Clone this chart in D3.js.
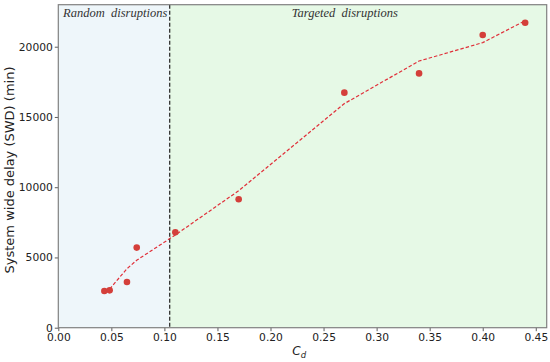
<!DOCTYPE html>
<html>
<head>
<meta charset="utf-8">
<script src="https://cdn.jsdelivr.net/npm/d3@7"></script>
<style>
body { margin: 0; background: #fff; }
</style>
</head>
<body>
<div id="graph"></div>
<script>
"use strict";

// observed points
var cdValues = [0.0434, 0.0484, 0.0647, 0.0739, 0.1103, 0.170, 0.2696, 0.340, 0.400, 0.440];
var swdValues = [2610, 2660, 3250, 5700, 6790, 9140, 16730, 18100, 20830, 21710];

// fitted trend (dashed)
var fitCd = [0.0484, 0.0647, 0.0739, 0.1103, 0.170, 0.2696, 0.340, 0.400, 0.440];
var fitSwd = [2750, 4200, 4800, 6600, 9750, 15950, 18980, 20290, 21850];

var xTicks = [0, 0.05, 0.10, 0.15, 0.20, 0.25, 0.30, 0.35, 0.40, 0.45];
var yTicks = [0, 5000, 10000, 15000, 20000];
var splitCd = 0.105;

var width = 550, height = 362;
var margin = {top: 4.7, left: 58.3, right: 3.3, bottom: 34.3};
var chartWidth = width - margin.left - margin.right;
var chartHeight = height - margin.top - margin.bottom;

var svg = d3.select("#graph").append("svg")
    .attr("width", width)
    .attr("height", height)
    .style("font-family", "'DejaVu Sans', sans-serif");

var chartLayer = svg.append("g")
    .attr("transform", "translate(" + [margin.left, margin.top] + ")");

var x = d3.scaleLinear().domain([0, 0.4603]).range([0, chartWidth]);
var y = d3.scaleLinear().domain([0, 22990]).range([chartHeight, 0]);

// shaded regions
chartLayer.append("rect")
    .attr("x", 0).attr("y", 0)
    .attr("width", x(splitCd)).attr("height", chartHeight)
    .attr("fill", "#eef6fa");
chartLayer.append("rect")
    .attr("x", x(splitCd)).attr("y", 0)
    .attr("width", chartWidth - x(splitCd)).attr("height", chartHeight)
    .attr("fill", "#e6f9e6");

// axes
var xAxis = chartLayer.append("g")
    .attr("transform", "translate(0," + chartHeight + ")")
    .call(d3.axisBottom(x).tickValues(xTicks).tickFormat(d3.format(".2f")).tickSize(3.5).tickPadding(2));
var yAxis = chartLayer.append("g")
    .call(d3.axisLeft(y).tickValues(yTicks).tickFormat(d3.format("d")).tickSize(3.5).tickPadding(2));

[xAxis, yAxis].forEach(function (a) {
    a.select(".domain").remove();
    a.selectAll("line").attr("stroke", "#333").attr("stroke-width", 0.8);
    a.selectAll("text")
        .attr("fill", "#222")
        .style("font-size", "10.7px")
        .style("font-family", "'DejaVu Sans', sans-serif");
});

// split line
chartLayer.append("line")
    .attr("x1", x(splitCd)).attr("x2", x(splitCd))
    .attr("y1", 0).attr("y2", chartHeight)
    .attr("stroke", "#222")
    .attr("stroke-width", 1.2)
    .attr("stroke-dasharray", "4,2");

// fitted line
var line = d3.line()
    .x(function (d, i) { return x(fitCd[i]); })
    .y(function (d) { return y(d); });

chartLayer.append("path")
    .datum(fitSwd)
    .attr("d", line)
    .attr("fill", "none")
    .attr("stroke", "#e0303a")
    .attr("stroke-width", 1.2)
    .attr("stroke-dasharray", "3.5,2");

// points
chartLayer.append("g")
    .selectAll("circle")
    .data(swdValues)
    .enter().append("circle")
    .attr("cx", function (d, i) { return x(cdValues[i]); })
    .attr("cy", function (d) { return y(d); })
    .attr("r", 3.3)
    .attr("fill", "#d43f3a");

// annotations
function note(cd, label) {
    chartLayer.append("text")
        .attr("x", x(cd)).attr("y", 12)
        .attr("fill", "#333")
        .attr("xml:space", "preserve")
        .style("font-family", "'Liberation Serif', 'DejaVu Serif', serif")
        .style("font-style", "italic")
        .style("font-size", "12.5px")
        .text(label);
}
note(0.0045, "Random  disruptions");
note(0.22, "Targeted  disruptions");

// frame
chartLayer.append("rect")
    .attr("x", 0).attr("y", 0)
    .attr("width", chartWidth).attr("height", chartHeight)
    .attr("fill", "none")
    .attr("stroke", "#808080")
    .attr("stroke-width", 1.2);

// axis labels
var xl = svg.append("text")
    .attr("x", margin.left + x(0.227)).attr("y", 355)
    .attr("text-anchor", "middle")
    .attr("fill", "#222")
    .style("font-size", "12px");
xl.append("tspan").style("font-style", "italic").text("C");
xl.append("tspan").style("font-style", "italic").style("font-size", "8.5px").attr("dy", 2.5).text("d");

svg.append("text")
    .attr("transform", "translate(14," + 170 + ") rotate(-90)")
    .attr("text-anchor", "middle")
    .attr("fill", "#222")
    .style("font-size", "13px")
    .text("System wide delay (SWD) (min)");
</script>
</body>
</html>
